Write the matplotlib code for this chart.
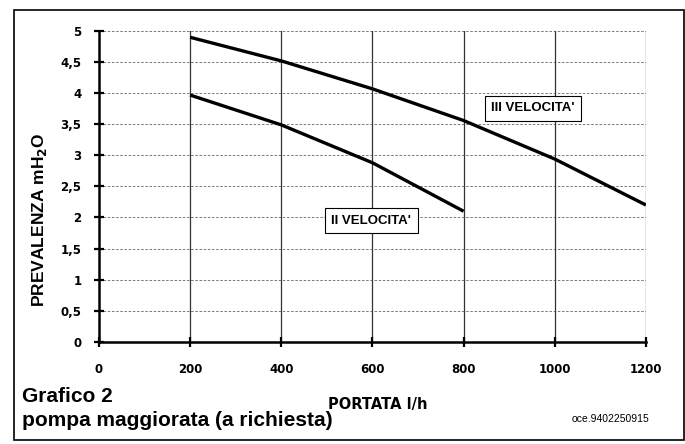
import numpy as np
import matplotlib.pyplot as plt
from matplotlib.patches import Rectangle

plt.rcParams['font.family'] = ['Liberation Sans', 'DejaVu Sans']

# portata l/h e prevalenza mH2O
portata_III = [200, 400, 600, 800, 1000, 1200]
prev_III = [4.90, 4.52, 4.07, 3.56, 2.94, 2.20]

portata_II = [200, 400, 600, 800]
prev_II = [3.97, 3.49, 2.88, 2.10]

x_ticks = [0, 200, 400, 600, 800, 1000, 1200]
y_ticks = [0, 0.5, 1, 1.5, 2, 2.5, 3, 3.5, 4, 4.5, 5]
y_labels = ['0', '0,5', '1', '1,5', '2', '2,5', '3', '3,5', '4', '4,5', '5']

fig = plt.figure(figsize=(6.85, 4.44), dpi=100)
ax = fig.add_axes([0.1445, 0.2304, 0.7985, 0.6996])

ax.plot(portata_III, prev_III, color='black', lw=2.4, solid_capstyle='butt')
ax.plot(portata_II, prev_II, color='black', lw=2.4, solid_capstyle='butt')

ax.set_xlim(0, 1200)
ax.set_ylim(0, 5)
ax.set_xticks(x_ticks)
ax.set_yticks(y_ticks)
ax.set_yticklabels(y_labels)
ax.tick_params(axis='both', direction='inout', length=7, width=1.6,
               labelsize=8.5)
ax.tick_params(axis='y', pad=9)
ax.tick_params(axis='x', pad=12)
for lab in ax.get_xticklabels() + ax.get_yticklabels():
    lab.set_fontfamily('DejaVu Sans')
    lab.set_fontweight('bold')

# griglia
for yv in y_ticks[1:]:
    ax.axhline(yv, color='#666666', lw=0.6, ls=(0, (3, 2)), zorder=0)
for xv in x_ticks[1:]:
    ax.axvline(xv, color='#333333', lw=0.9, zorder=0)

ax.spines['top'].set_visible(False)
ax.spines['right'].set_visible(False)
ax.spines['left'].set_linewidth(1.8)
ax.spines['bottom'].set_linewidth(1.8)

fig.text(0.058, 1 - 220 / 444, 'PREVALENZA mH$_\\mathbf{2}$O', fontsize=12.5,
         fontweight='bold', rotation=90, ha='center', va='center')

box = dict(boxstyle='square,pad=0.5', fc='white', ec='black', lw=0.8)
ax.text(952, 3.76, "III VELOCITA'", fontsize=9.5, fontweight='bold',
        ha='center', va='center', bbox=box)
ax.text(597, 1.95, "II VELOCITA'", fontsize=9.5, fontweight='bold',
        ha='center', va='center', bbox=box)

fig.text(0.551, 1 - 404 / 444, 'PORTATA l/h', fontsize=10.5, fontweight='bold',
         family='DejaVu Sans', ha='center', va='center')
fig.text(0.032, 1 - 396 / 444, 'Grafico 2', fontsize=15, fontweight='bold',
         ha='left', va='center')
fig.text(0.032, 1 - 420 / 444, 'pompa maggiorata (a richiesta)', fontsize=15,
         fontweight='bold', ha='left', va='center')
fig.text(0.891, 1 - 419 / 444, 'oce.9402250915', fontsize=7.5, ha='center',
         va='center')

fig.patches.append(Rectangle((0.021, 0.01), 0.977, 0.968, fill=False,
                             ec='black', lw=1.2, transform=fig.transFigure))

fig.savefig('out.png', dpi=100)
